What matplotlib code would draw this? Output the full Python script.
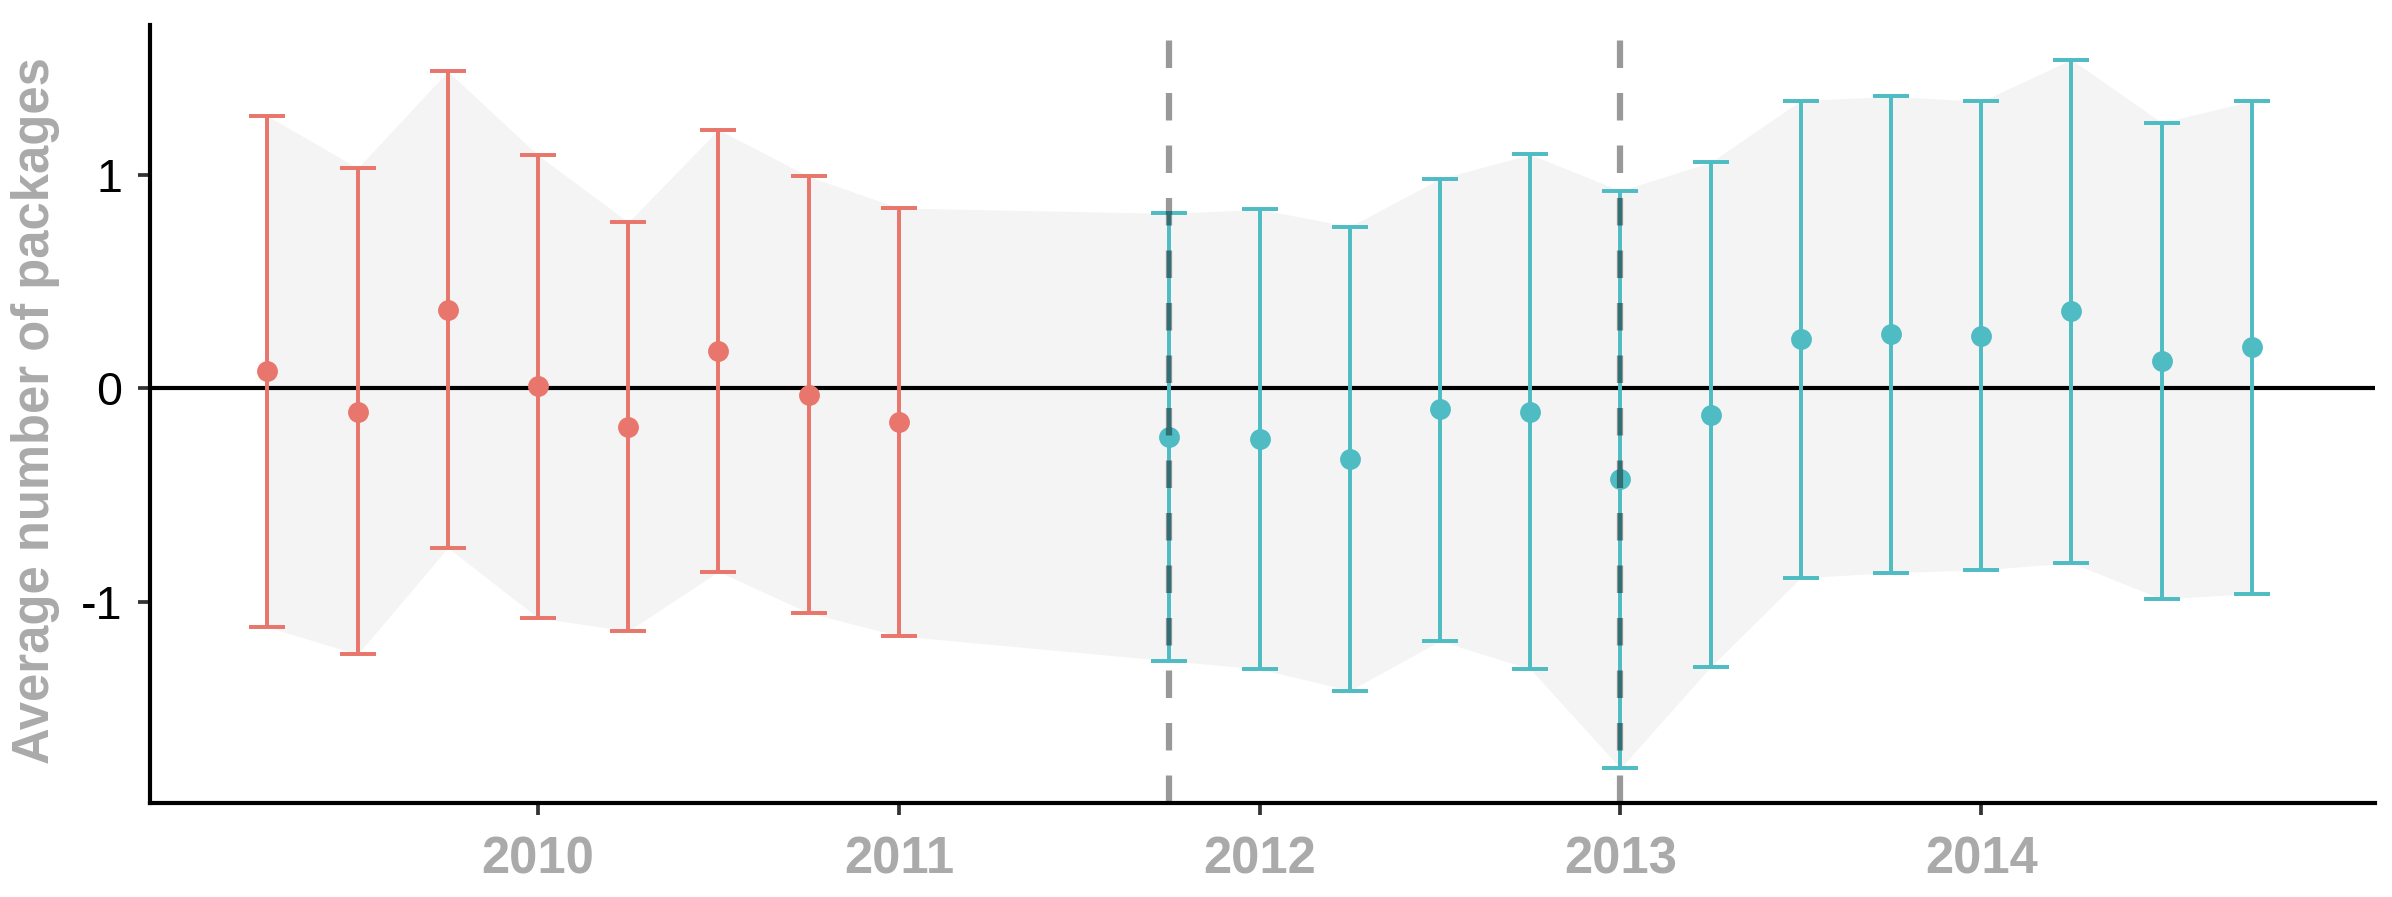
import matplotlib
matplotlib.use("Agg")
import matplotlib.pyplot as plt

# data (quarterly points)
red_x = [2009.25, 2009.5, 2009.75, 2010.0, 2010.25, 2010.5, 2010.75, 2011.0]
red_mean = [0.078, -0.110, 0.367, 0.008, -0.180, 0.175, -0.031, -0.161]
red_low = [-1.119, -1.246, -0.747, -1.076, -1.137, -0.859, -1.052, -1.160]
red_high = [1.274, 1.030, 1.483, 1.090, 0.777, 1.210, 0.991, 0.843]

cyan_x = [2011.75, 2012.0, 2012.25, 2012.5, 2012.75, 2013.0, 2013.25,
          2013.5, 2013.75, 2014.0, 2014.25, 2014.5, 2014.75]
cyan_mean = [-0.231, -0.239, -0.333, -0.098, -0.113, -0.426, -0.125,
             0.228, 0.253, 0.245, 0.359, 0.128, 0.192]
cyan_low = [-1.277, -1.315, -1.416, -1.184, -1.315, -1.780, -1.305,
            -0.888, -0.864, -0.851, -0.818, -0.987, -0.962]
cyan_high = [0.818, 0.837, 0.756, 0.980, 1.094, 0.924, 1.057,
             1.346, 1.366, 1.342, 1.538, 1.243, 1.344]

vlines_x = [2011.75, 2013.0]
year_ticks = [2010, 2011, 2012, 2013, 2014]
y_ticks = [-1, 0, 1]

red = "#E9766D"
cyan = "#4FBCC3"
grey_txt = "#AAAAAA"

plt.rcParams["font.family"] = ["Liberation Sans", "DejaVu Sans"]
plt.rcParams["axes.unicode_minus"] = False

fig = plt.figure(figsize=(2392 / 300, 897 / 300), dpi=300)
ax = fig.add_axes([149.5 / 2392, 1 - 803.3 / 897, 2225 / 2392, (803.3 - 25) / 897])

# ribbon behind everything
all_x = red_x + cyan_x
all_low = red_low + cyan_low
all_high = red_high + cyan_high
ax.fill_between(all_x, all_low, all_high, color="#F4F4F4", lw=0, zorder=1)

ax.axhline(0, color="black", lw=1.0, zorder=2)

for xs, m, lo, hi, c in [(red_x, red_mean, red_low, red_high, red),
                         (cyan_x, cyan_mean, cyan_low, cyan_high, cyan)]:
    err = [[mm - l for mm, l in zip(m, lo)], [h - mm for mm, h in zip(m, hi)]]
    ax.errorbar(xs, m, yerr=err, fmt="o", color=c, ms=4.0, elinewidth=0.95,
                capsize=4.3, capthick=0.95, zorder=3)

for vx in vlines_x:
    ax.axvline(vx, color="black", alpha=0.4, lw=1.5, dashes=(4.4, 4), zorder=4)

ax.set_xlim(2008.923, 2015.09)
ax.set_ylim(-1.944, 1.70)
ax.set_xticks(year_ticks)
ax.set_xticklabels([str(y) for y in year_ticks])
ax.set_yticks(y_ticks)
ax.set_yticklabels([str(v) for v in y_ticks])

for s in ["top", "right"]:
    ax.spines[s].set_visible(False)
for s in ["left", "bottom"]:
    ax.spines[s].set_linewidth(1.0)
    ax.spines[s].set_color("black")

ax.tick_params(axis="both", length=2.9, width=0.9, color="#333333")
ax.tick_params(axis="y", labelsize=11.2, labelcolor="black", pad=3.6)
ax.tick_params(axis="x", labelsize=12.2, labelcolor=grey_txt, pad=4.8)
for lab in ax.get_xticklabels():
    lab.set_fontweight("bold")

ax.set_ylabel("Average number of packages", fontsize=12.2, fontweight="bold",
              color=grey_txt)
ax.yaxis.set_label_coords(-0.040, 0.505)

fig.savefig("out.png", dpi=300)
